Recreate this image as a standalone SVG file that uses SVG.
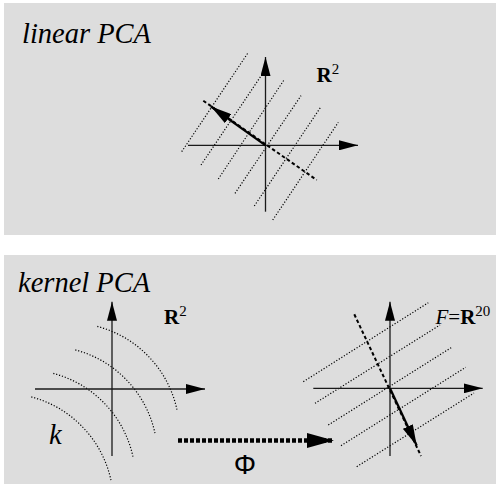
<svg xmlns="http://www.w3.org/2000/svg" width="496" height="485" viewBox="0 0 496 485">
<defs>
<style>
.panel{fill:#dddddd;stroke:none}
.axis{stroke:#1a1a1a;stroke-width:1.3;fill:none}
.dot{stroke:#000;stroke-width:1.2;stroke-dasharray:1.2,1.8;fill:none}
.dash{stroke:#000;stroke-width:2;stroke-dasharray:3.5,2.5;fill:none}
.pc{stroke:#000;stroke-width:2.2;fill:none}
.phi{stroke:#000;stroke-width:4.5;stroke-dasharray:4,2;fill:none}
.title{font-family:"Liberation Serif",serif;font-style:italic;font-size:28.5px;fill:#000}
.lab{font-family:"Liberation Serif",serif;font-size:21px;fill:#000}
.sup{font-size:15px}
</style>
<marker id="ax" markerUnits="userSpaceOnUse" markerWidth="19" markerHeight="10" refX="19" refY="5" orient="auto" viewBox="0 0 19 10"><path d="M0,0 L19,5 L0,10 z" fill="#000"/></marker>
<marker id="pcm" markerUnits="userSpaceOnUse" markerWidth="21" markerHeight="11" refX="21" refY="5.5" orient="auto" viewBox="0 0 21 11"><path d="M0,0 L21,5.5 L0,11 z" fill="#000"/></marker>
<marker id="phm" markerUnits="userSpaceOnUse" markerWidth="27" markerHeight="15" refX="27" refY="7.5" orient="auto" viewBox="0 0 27 15"><path d="M0,0 L27,7.5 L0,15 z" fill="#000"/></marker>
</defs>

<g id="panel-linear">
<rect class="panel" x="4" y="3" width="492" height="232"/>
<text class="title" x="22" y="43">linear PCA</text>
</g>
<g id="panel-kernel">
<rect class="panel" x="4" y="255" width="492" height="229"/>
<text class="title" x="18" y="292">kernel PCA</text>
</g>

<g id="linear-space">
<g class="dot-lines">
<line class="dot" x1="181.7" y1="151.7" x2="247.7" y2="53.3"/>
<line class="dot" x1="201" y1="165" x2="261" y2="76"/>
<line class="dot" x1="218.3" y1="179" x2="284" y2="80"/>
<line class="dot" x1="235" y1="193.3" x2="301" y2="95.7"/>
<line class="dot" x1="254.3" y1="206" x2="320.3" y2="107.7"/>
<line class="dot" x1="272.7" y1="220" x2="338.3" y2="122.3"/>
</g>
<line class="axis" x1="188" y1="145.3" x2="358" y2="145.3" marker-end="url(#ax)"/>
<line class="axis" x1="265.5" y1="211.7" x2="265.5" y2="57" marker-end="url(#ax)"/>
<line class="dash" x1="203.3" y1="100.7" x2="316.7" y2="180"/>
<line class="pc" x1="265.5" y1="145.3" x2="211" y2="106.5" marker-end="url(#pcm)"/>
<text class="lab" x="316.5" y="81.5"><tspan font-weight="bold">R</tspan><tspan class="sup" dy="-8">2</tspan></text>
</g>

<g id="input-space">
<path class="dot" d="M97.3,326.4 A110,110 0 0 1 177,409.9"/>
<path class="dot" d="M75.3,349.9 A110,110 0 0 1 155,433.4"/>
<path class="dot" d="M53.3,373.4 A110,110 0 0 1 133,456.9"/>
<path class="dot" d="M31.3,396.9 A110,110 0 0 1 111,480.4"/>
<line class="axis" x1="35" y1="389" x2="205" y2="389" marker-end="url(#ax)"/>
<line class="axis" x1="112" y1="456" x2="112" y2="301.7" marker-end="url(#ax)"/>
<text class="lab" x="164" y="323.5"><tspan font-weight="bold">R</tspan><tspan class="sup" dy="-8">2</tspan></text>
<text class="title" x="49" y="443.5">k</text>
</g>

<g id="feature-space">
<line class="dot" x1="303.3" y1="381.7" x2="428.3" y2="302.7"/>
<line class="dot" x1="315" y1="403.3" x2="440" y2="325"/>
<line class="dot" x1="328.3" y1="425" x2="452.7" y2="346.7"/>
<line class="dot" x1="341" y1="445.7" x2="465.7" y2="367.3"/>
<line class="dot" x1="356.7" y1="466.7" x2="474" y2="393"/>
<line class="axis" x1="313.3" y1="388.3" x2="482.7" y2="388.3" marker-end="url(#ax)"/>
<line class="axis" x1="390" y1="456" x2="390" y2="301.7" marker-end="url(#ax)"/>
<line class="dash" x1="354.3" y1="314.3" x2="421" y2="456"/>
<line class="pc" x1="390" y1="388.3" x2="416.7" y2="445.5" marker-end="url(#pcm)"/>
<text class="lab" x="435.5" y="324"><tspan font-style="italic">F</tspan>=<tspan font-weight="bold">R</tspan><tspan class="sup" dy="-8">20</tspan></text>
</g>

<g id="connectors">
<line class="phi" x1="178" y1="440.5" x2="334" y2="440.5" marker-end="url(#phm)"/>
<text x="245" y="474" text-anchor="middle" font-family="Liberation Sans, sans-serif" font-size="28">Φ</text>
</g>
</svg>
